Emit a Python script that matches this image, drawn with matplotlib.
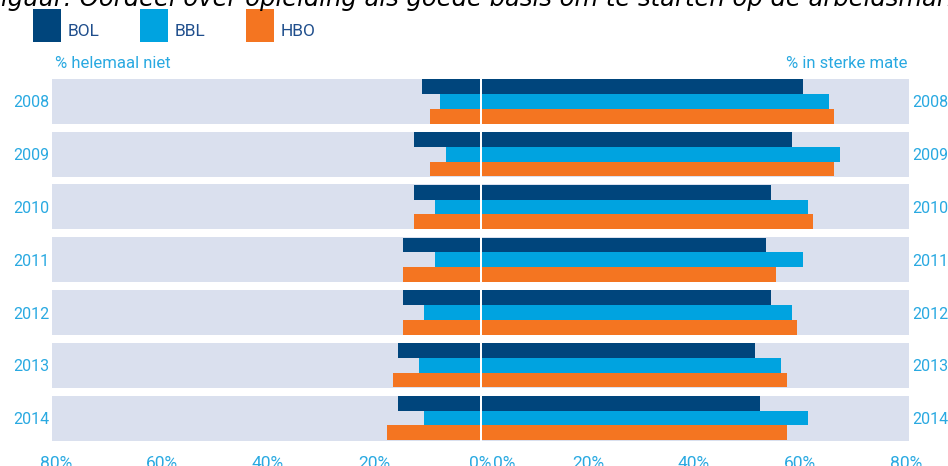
import numpy as np
import matplotlib
matplotlib.use("Agg")
import matplotlib.pyplot as plt
from matplotlib.patches import Rectangle
from matplotlib.transforms import ScaledTranslation

plt.rcParams['font.family'] = ['Roboto', 'DejaVu Sans']

# data: % "helemaal niet" (links) en % "in sterke mate" (rechts)
years = ["2008", "2009", "2010", "2011", "2012", "2013", "2014"]
series = ["BOL", "BBL", "HBO"]
niet_bol = [11, 12.5, 12.5, 14.5, 14.5, 15.5, 15.5]
niet_bbl = [7.5, 6.5, 8.5, 8.5, 10.5, 11.5, 10.5]
niet_hbo = [9.5, 9.5, 12.5, 14.5, 14.5, 16.5, 17.5]
sterk_bol = [60.5, 58.5, 54.5, 53.5, 54.5, 51.5, 52.5]
sterk_bbl = [65.5, 67.5, 61.5, 60.5, 58.5, 56.5, 61.5]
sterk_hbo = [66.5, 66.5, 62.5, 55.5, 59.5, 57.5, 57.5]
xticks = [0, 20, 40, 60, 80]

colors = {"BOL": "#00457c", "BBL": "#00a3e0", "HBO": "#f47521"}
band_col = "#dae0ee"
lbl_col = "#29a9e1"

W, H = 948, 466
fig = plt.figure(figsize=(W / 100, H / 100), dpi=100)

def px(x0, y0, x1, y1):
    # pixel box (top-left origin) -> figure fraction rect
    return [x0 / W, 1 - y1 / H, (x1 - x0) / W, (y1 - y0) / H]

ax_l = fig.add_axes(px(52, 75, 480, 444.5))
ax_r = fig.add_axes(px(482, 75, 909, 444.5))

y = np.arange(len(years))
bh = 0.28
left = [niet_bol, niet_bbl, niet_hbo]
right = [sterk_bol, sterk_bbl, sterk_hbo]

for ax, data, xmax in [(ax_l, left, 428 / 5.3), (ax_r, right, 427 / 5.3)]:
    ax.barh(y, xmax, height=0.853, color=band_col, zorder=1)
    for i, (name, vals) in enumerate(zip(series, data)):
        ax.barh(y + (i - 1) * bh, vals, height=bh, color=colors[name], zorder=2)
    ax.set_xlim(0, xmax)
    ax.set_ylim(6.5, -0.5)
    ax.set_xticks(xticks)
    ax.set_xticklabels([f"{t}%" for t in xticks])
    ax.set_yticks(y)
    ax.set_yticklabels(years)
    for s in ax.spines.values():
        s.set_visible(False)
    ax.tick_params(length=0, labelcolor=lbl_col)
    ax.tick_params(axis="x", pad=8, labelsize=12.5)
    ax.tick_params(axis="y", pad=2, labelsize=11.5)

ax_l.invert_xaxis()
ax_r.yaxis.tick_right()

# rechter 0% iets naar rechts schuiven
lab0 = ax_r.get_xticklabels()[0]
lab0.set_transform(lab0.get_transform() + ScaledTranslation(22 / 100, 0, fig.dpi_scale_trans))

# kopjes
fig.text(55 / W, 1 - 63 / H, "% helemaal niet", color=lbl_col, fontsize=12,
         ha="left", va="center")
fig.text(907 / W, 1 - 63 / H, "% in sterke mate", color=lbl_col, fontsize=12,
         ha="right", va="center")

# legenda
for name, x0 in zip(series, [33, 140, 246]):
    r = Rectangle((x0 / W, 1 - 42 / H), 28 / W, 33 / H, transform=fig.transFigure,
                  facecolor=colors[name], edgecolor="none")
    fig.add_artist(r)
    fig.text((x0 + 35) / W, 1 - 31 / H, name, color="#1f4e8c", fontsize=12.5,
             ha="left", va="center")

# titel (bovenkant valt buiten beeld)
fig.text(-13 / W, 1 - 6 / H,
         "Figuur: Oordeel over opleiding als goede basis om te starten op de arbeidsmarkt",
         family="DejaVu Sans", style="italic", fontsize=17.5, ha="left", va="baseline")

fig.savefig("out.png", dpi=100)
